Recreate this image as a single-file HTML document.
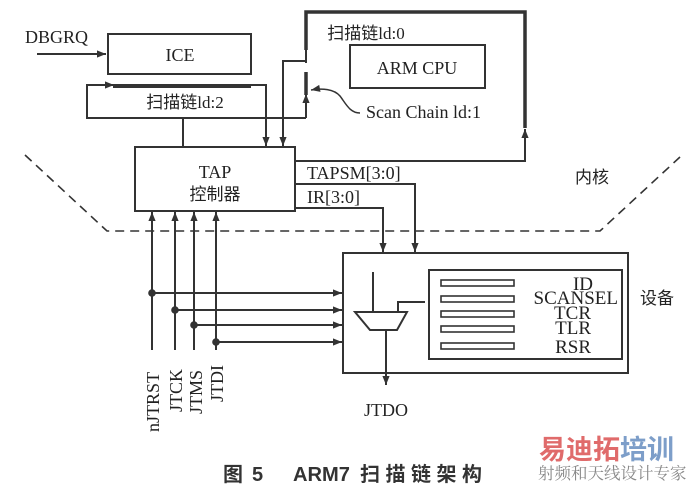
<!DOCTYPE html>
<html><head><meta charset="utf-8"><style>
html,body{margin:0;padding:0;background:#fff;}
svg{display:block;}
.s{font-family:"Liberation Serif","Noto Serif CJK SC",serif;fill:#222;}
.c{font-family:"Liberation Serif","Noto Sans CJK SC",serif;fill:#222;}
.cap{font-family:"Liberation Sans","Noto Sans CJK SC",sans-serif;font-size:20px;fill:#333;}
</style></head><body>
<svg width="692" height="488" viewBox="0 0 692 488" xmlns="http://www.w3.org/2000/svg">
<defs>
<marker id="a" viewBox="0 0 10 10" refX="10" refY="5" markerWidth="11" markerHeight="9" orient="auto-start-reverse" markerUnits="userSpaceOnUse"><path d="M0,1 L10,5 L0,9 z" fill="#333"/></marker>
</defs>
<g stroke="#333" stroke-width="2" fill="none">
<path d="M25,155 L107,231 L600,231 L680,157" stroke-dasharray="9,6" stroke-width="1.6"/>
<rect x="108" y="34" width="143" height="40"/>
<line x1="37" y1="54" x2="106" y2="54" marker-end="url(#a)"/>
<path d="M113,85 L87,85 L87,118 L306,118"/>
<line x1="100" y1="85" x2="114" y2="85" marker-end="url(#a)"/>
<line x1="113" y1="86" x2="251" y2="86" stroke-width="4"/>
<path d="M251,85 L266,85 L266,146" marker-end="url(#a)"/>
<line x1="183" y1="118" x2="183" y2="147"/>
<line x1="306" y1="118" x2="306" y2="94" marker-end="url(#a)"/>
<line x1="306" y1="72" x2="306" y2="95" stroke-width="3.5"/>
<line x1="306" y1="50" x2="306" y2="63"/>
<path d="M306,61 L283,61 L283,146" marker-end="url(#a)"/>
<path d="M306,50 L306,12 L525,12 L525,128" stroke-width="3.5"/>
<path d="M295,161 L525,161 L525,129" marker-end="url(#a)"/>
<rect x="350" y="45" width="135" height="43"/>
<path d="M360,113 C350,113 346,104 340,96 C334,89 322,88 311,90" marker-end="url(#a)" stroke-width="1.5"/>
<rect x="135" y="147" width="160" height="64"/>
<path d="M295,184 L415,184 L415,252" marker-end="url(#a)"/>
<path d="M295,208 L383,208 L383,252" marker-end="url(#a)"/>
<line x1="152" y1="350" x2="152" y2="212" marker-end="url(#a)"/>
<line x1="175" y1="350" x2="175" y2="212" marker-end="url(#a)"/>
<line x1="194" y1="350" x2="194" y2="212" marker-end="url(#a)"/>
<line x1="216" y1="350" x2="216" y2="212" marker-end="url(#a)"/>
<line x1="152" y1="293" x2="342" y2="293" marker-end="url(#a)"/>
<line x1="175" y1="310" x2="342" y2="310" marker-end="url(#a)"/>
<line x1="194" y1="325" x2="342" y2="325" marker-end="url(#a)"/>
<line x1="216" y1="342" x2="342" y2="342" marker-end="url(#a)"/>
<rect x="343" y="253" width="285" height="120"/>
<rect x="429" y="270" width="193" height="89"/>
<g stroke-width="1.6">
<rect x="441" y="280" width="73" height="6"/>
<rect x="441" y="296" width="73" height="6"/>
<rect x="441" y="311" width="73" height="6"/>
<rect x="441" y="326" width="73" height="6"/>
<rect x="441" y="343" width="73" height="6"/>
</g>
<path d="M355,312 L407,312 L397,330 L370,330 Z"/>
<line x1="373" y1="272" x2="373" y2="312"/>
<path d="M398,312 L398,302 L425,302"/>
<line x1="386" y1="330" x2="386" y2="385" marker-end="url(#a)"/>
</g>
<g fill="#333">
<circle cx="152" cy="293" r="3.8"/><circle cx="175" cy="310" r="3.8"/><circle cx="194" cy="325" r="3.8"/><circle cx="216" cy="342" r="3.8"/>
</g>
<g class="s" font-size="18">
<text x="25" y="43">DBGRQ</text>
<text x="180" y="61" text-anchor="middle">ICE</text>
<text x="185" y="108" text-anchor="middle" class="c" font-size="17">扫描链ld:2</text>
<text x="366" y="39" text-anchor="middle" class="c" font-size="17">扫描链ld:0</text>
<text x="417" y="74" text-anchor="middle">ARM CPU</text>
<text x="366" y="118">Scan Chain ld:1</text>
<text x="215" y="178" text-anchor="middle">TAP</text>
<text x="215" y="200" text-anchor="middle" class="c" font-size="17">控制器</text>
<text x="307" y="179">TAPSM[3:0]</text>
<text x="307" y="203">IR[3:0]</text>
<text x="575" y="183" class="c" font-size="17">内核</text>
<text x="640" y="304" class="c" font-size="17">设备</text>
<text x="386" y="416" text-anchor="middle">JTDO</text>
<g text-anchor="end" font-size="19">
<text x="593" y="290">ID</text>
<text x="618" y="304">SCANSEL</text>
<text x="591" y="319">TCR</text>
<text x="591" y="334">TLR</text>
<text x="591" y="353">RSR</text>
</g>
<text transform="translate(159,432) rotate(-90)">nJTRST</text>
<text transform="translate(182,412) rotate(-90)">JTCK</text>
<text transform="translate(202,414) rotate(-90)">JTMS</text>
<text transform="translate(223,402) rotate(-90)">JTDI</text>
</g>
<g class="cap" font-weight="bold">
<text x="223" y="481">图</text>
<text x="252" y="481">5</text>
<text x="293" y="481" textLength="57" lengthAdjust="spacingAndGlyphs">ARM7</text>
<text x="360" y="481" textLength="122" lengthAdjust="spacing">扫描链架构</text>
</g>
<text x="539" y="459" font-family="'Noto Sans CJK SC',sans-serif" font-size="27" font-weight="bold" fill="#e06b6b">易迪拓<tspan fill="#7d9ec9">培训</tspan></text>
<text x="538" y="479" font-family="'Noto Serif CJK SC',serif" font-size="16.5" fill="#888">射频和天线设计专家</text>
</svg>
</body></html>
